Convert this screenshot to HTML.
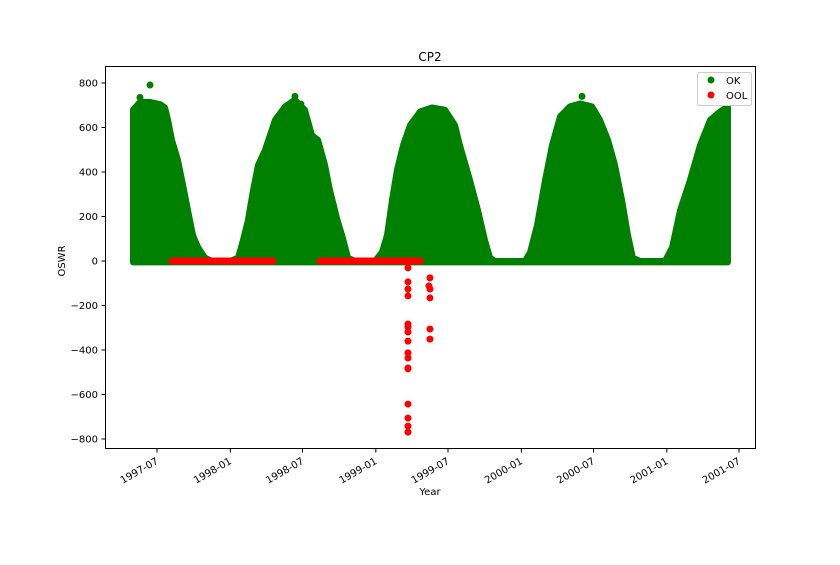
<!DOCTYPE html>
<html><head><meta charset="utf-8"><style>
body{margin:0;background:#fff;font-family:"Liberation Sans","DejaVu Sans",sans-serif}
svg text{font-family:"DejaVu Sans","Liberation Sans",sans-serif;fill:#000}
</style></head><body>
<svg id="chart" width="840" height="560" xmlns="http://www.w3.org/2000/svg">
<rect x="0" y="0" width="840" height="560" fill="#fff"/>
<text x="430" y="61" font-size="12" text-anchor="middle">CP2</text>
<g id="plot"></g>
<rect x="105.5" y="66.5" width="650" height="382" fill="none" stroke="#000" stroke-width="1"/>
<g id="axes"></g>
<text x="430" y="495" font-size="10" text-anchor="middle">Year</text>
<text transform="translate(65,261) rotate(-90)" font-size="10" text-anchor="middle">OSWR</text>
<g>
<rect x="697.5" y="72.5" width="54" height="33" rx="2" fill="#fff" stroke="#ccc"/>
<circle cx="711" cy="80" r="3.5" fill="green"/>
<text x="726" y="84" font-size="10">OK</text>
<circle cx="711" cy="95" r="3.5" fill="red"/>
<text x="726" y="99" font-size="10">OOL</text>
</g>
</svg>
<script>
const envYears=[1997.331,1997.379,1997.448,1997.517,1997.551,1997.572,1997.599,1997.640,1997.675,1997.709,1997.743,1997.778,1997.826,1997.874,1997.998,1998.053,1998.087,1998.121,1998.156,1998.190,1998.238,1998.307,1998.376,1998.444,1998.513,1998.561,1998.603,1998.651,1998.685,1998.733,1998.774,1998.809,1998.857,1998.994,1999.042,1999.077,1999.111,1999.145,1999.187,1999.235,1999.304,1999.386,1999.475,1999.544,1999.578,1999.647,1999.702,1999.750,1999.785,1999.819,2000.025,2000.060,2000.108,2000.163,2000.211,2000.266,2000.334,2000.403,2000.486,2000.541,2000.596,2000.644,2000.692,2000.733,2000.767,2000.816,2000.987,2001.036,2001.091,2001.159,2001.228,2001.297,2001.365,2001.420];
const envMax=[680,715,715,705,690,634,544,454,342,229,117,62,15,0,0,15,94,184,319,431,499,634,695,725,679,566,544,431,319,193,103,15,0,0,40,117,274,409,521,611,672,690,680,611,521,364,229,94,15,0,0,40,162,364,521,650,695,708,695,634,544,431,274,117,15,0,0,62,229,364,521,634,672,695];
const okOutYears=[1997.448,1998.444,1999.249,2000.417,1997.379,1998.485];
const okOutVals=[791,740,535,740,735,705];
const oolBandStart=[1997.599,1998.616];
const oolBandEnd=[1998.293,1999.304];
const oolOutYears=[1999.221,1999.221,1999.221,1999.221,1999.221,1999.221,1999.221,1999.221,1999.221,1999.221,1999.221,1999.221,1999.221,1999.221,1999.221,1999.221,1999.372,1999.365,1999.372,1999.372,1999.372,1999.372];
const oolOutVals=[-31,-94,-126,-157,-283,-297,-319,-360,-413,-436,-481,-485,-643,-706,-742,-769,-76,-112,-126,-166,-306,-351];
const yTicks=[800,600,400,200,0,-200,-400,-600,-800];
const yTickLabels=["800","600","400","200","0","\u2212200","\u2212400","\u2212600","\u2212800"];
const xTicks=[1997.496,1998,1998.496,1999,1999.496,2000,2000.496,2001,2001.496];
const xTickLabels=["1997-07","1998-01","1998-07","1999-01","1999-07","2000-01","2000-07","2001-01","2001-07"];

const NS="http://www.w3.org/2000/svg";
const X=y=>157+(y-1997.496)*145.5;
const Y=v=>261-v*0.2225;
const plot=document.getElementById('plot'),axes=document.getElementById('axes');
function mk(tag,attrs,parent){const e=document.createElementNS(NS,tag);for(const k in attrs)e.setAttribute(k,attrs[k]);parent.appendChild(e);return e;}

let d='M'+X(envYears[0])+','+Y(-6);
envYears.forEach((yr,i)=>{d+=' L'+X(yr)+','+Y(envMax[i]);});
d+=' L'+X(envYears[envYears.length-1])+','+Y(-6)+' Z';
const area=mk('path',{d:d,fill:'green',stroke:'green','stroke-width':6,'stroke-linejoin':'round'},plot);


okOutYears.forEach((yr,i)=>{
  const c=mk('circle',{cx:X(yr),cy:Y(okOutVals[i]),r:3.5,fill:'green'},plot);
  
  
});
oolBandStart.forEach((s,i)=>{
  const l=mk('line',{x1:X(s),y1:Y(0),x2:X(oolBandEnd[i]),y2:Y(0),stroke:'red','stroke-width':7,'stroke-linecap':'round'},plot);
  
  
});
oolOutYears.forEach((yr,i)=>{
  const c=mk('circle',{cx:X(yr),cy:Y(oolOutVals[i]),r:3.5,fill:'red'},plot);
  
  
});
yTicks.forEach((v,i)=>{
  const t=mk('line',{x1:101.5,x2:105.5,y1:Y(v),y2:Y(v),stroke:'#000'},axes);
  
  
  const tx=mk('text',{x:98,y:Y(v)+3.5,'font-size':10,'text-anchor':'end'},axes);
  tx.textContent=yTickLabels[i];
  
  
});
xTicks.forEach((v,i)=>{
  const x=X(v);
  const t=mk('line',{x1:x,x2:x,y1:448.5,y2:452.5,stroke:'#000'},axes);
  
  
  const ax=x+2, ay=463;
  const tx=mk('text',{x:ax,y:ay,'font-size':10,'text-anchor':'end',transform:'rotate(-30 '+ax+' '+ay+')'},axes);
  tx.textContent=xTickLabels[i];
  
  
});
</script>
</body></html>
